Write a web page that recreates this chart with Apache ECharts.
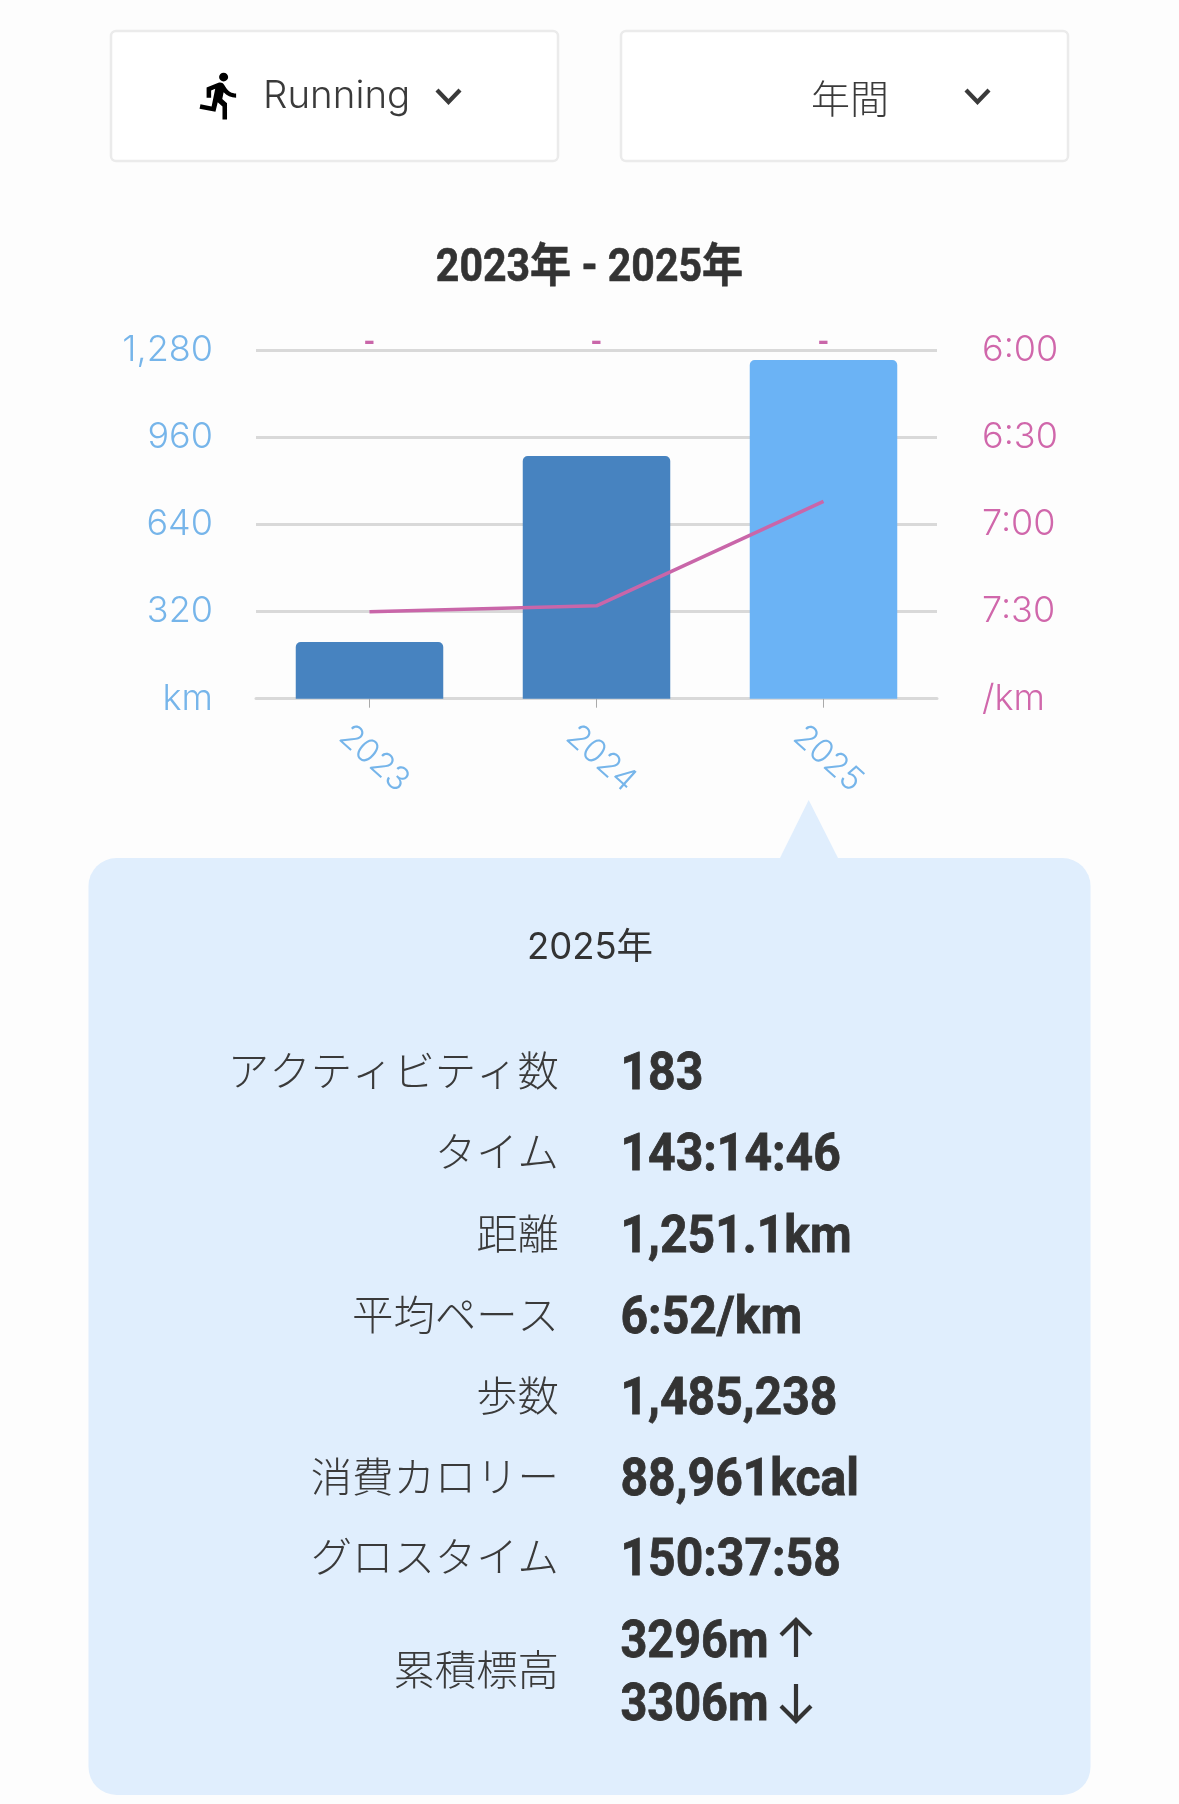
<!DOCTYPE html>
<html><head><meta charset="utf-8">
<style>html,body{margin:0;padding:0;background:#fdfdfd}#c{width:1179px;height:1804px}</style>
<script src="https://cdn.jsdelivr.net/npm/echarts@6/dist/echarts.min.js"></script>
</head><body><div id="c"></div>
<script>
const categories = ['2023','2024','2025'];
const distanceKm = [208, 892, 1245];
const paceSeconds = [450, 448, 412];
const paceMarks = ['-','-','-'];
const barColors = ['#4783c0','#4783c0','#6bb3f5'];
const distanceTicks = {0:'km',320:'320',640:'640',960:'960',1280:'1,280'};
const paceTicks = {360:'6:00',390:'6:30',420:'7:00',450:'7:30',480:'/km'};
const panelTitle = '2025年';
const rowLabels = ['アクティビティ数','タイム','距離','平均ペース','歩数','消費カロリー','グロスタイム','累積標高'];
const rowValues = ['183','143:14:46','1,251.1km','6:52/km','1,485,238','88,961kcal','150:37:58'];
const climb = '3296m', descent = '3306m';
const rowY = [1071,1152,1234,1315,1396,1477,1557,1670];
const latin = 'Roboto, "Noto Sans CJK JP", sans-serif';
const ui = 'Inter, "Noto Sans CJK JP", sans-serif';
const jp = '"Noto Sans CJK JP", sans-serif';
const runPath = 'M13.49 5.48c1.1 0 2-.9 2-2s-.9-2-2-2-2 .9-2 2 .9 2 2 2zm-3.6 13.9l1-4.4 2.1 2v6h2v-7.5l-2.1-2 .6-3c1.3 1.5 3.3 2.5 5.5 2.5v-2c-1.9 0-3.5-1-4.3-2.4l-1-1.6c-.4-.6-1-1-1.7-1-.3 0-.5.1-.8.1l-5.2 2.2v4.7h2v-3.4l1.8-.7-1.6 8.1-4.9-1-.4 2 7 1.4z';
echarts.graphic.registerShape('runner', echarts.graphic.extendPath(runPath, {}));

function box(x,y,w,h){return {type:'rect',shape:{x,y,width:w,height:h,r:5},style:{fill:'#fff',stroke:'#ebebeb',lineWidth:2.5}};}
function chev(x){return {type:'polyline',shape:{points:[[x,90],[x+11.5,102],[x+23,90]]},style:{fill:'none',stroke:'#3a3a3a',lineWidth:4.2}};}
function txt(t,x,y,size,opt){opt=opt||{};const s={text:t,x:0,y:0,font:(opt.w||300)+' '+size+'px '+(opt.f||jp),fill:opt.c||'#3a3a3a',align:opt.a||'left',verticalAlign:'middle'};
  if(opt.st){s.stroke=s.fill;s.lineWidth=opt.st;}
  return {type:'text',x,y,scaleX:opt.sx||1,style:s};}
const graphics = [
  box(111,31,447,130), box(621,31,447,130),
  {type:'runner',x:193,y:69.5,scaleX:2.27,scaleY:2.18,style:{fill:'#000'}},
  txt('Running',263,96,38.5,{f:ui}),
  chev(437), chev(966),
  txt('年間',850,98,39,{a:'center'}),
  txt('2023年 - 2025年',589.5,269,46,{f:latin,w:700,a:'center',sx:.893,c:'#333',st:.6}),
  {type:'polygon',shape:{points:[[779,860],[808.7,800],[839,860]]},style:{fill:'#e0eefd'}},
  {type:'rect',shape:{x:88.5,y:858,width:1002,height:937,r:28},style:{fill:'#e0eefd'}},
  txt(panelTitle,590,948,36.5,{f:ui,w:400,a:'center',c:'#333'})
];
rowLabels.forEach((l,i)=>graphics.push(txt(l,559,rowY[i]-0.5,41.4,{a:'right',c:'#3a3a3a'})));
const vs={f:latin,w:700,sx:.925,c:'#333',st:.8};
rowValues.forEach((v,i)=>graphics.push(txt(v,620.5,rowY[i]+4.5,52,vs)));
graphics.push(txt(climb,620.5,1643.5,52,{...vs,sx:.9}));
graphics.push(txt(descent,620.5,1706.5,52,{...vs,sx:.9}));
function arrow(x,y,dir){const tip=y-dir*19;return {type:'polyline',shape:{points:[[x-15,tip+dir*15],[x,tip],[x+15,tip+dir*15]]},style:{fill:'none',stroke:'#333',lineWidth:4.2}};}
function shaft(x,y){return {type:'line',shape:{x1:x,y1:y-18,x2:x,y2:y+18},style:{stroke:'#333',lineWidth:4.2}};}
graphics.push(arrow(796,1639,1),shaft(796,1639),arrow(796,1702,-1),shaft(796,1702));

const chart = echarts.init(document.getElementById('c'));
const gridLine = {color:'#d9d9d9',width:3};
chart.setOption({
  animation:false,
  backgroundColor:'#fdfdfd',
  graphic:graphics,
  grid:{left:256,right:242,top:350.5,height:348.2,containLabel:false},
  xAxis:{type:'category',data:categories,
    axisLine:{lineStyle:gridLine},
    axisTick:{show:true,alignWithLabel:true,length:9,lineStyle:{color:'#aaa',width:1}},
    axisLabel:{rotate:-42,align:'center',verticalAlign:'middle',margin:56,padding:[0,0,0,12],fontSize:33,fontWeight:300,fontFamily:ui,color:'#76b5ea'}},
  yAxis:[
    {type:'value',min:0,max:1280,interval:320,
      axisLine:{show:false},axisTick:{show:false},splitLine:{lineStyle:gridLine},
      axisLabel:{margin:43,padding:[6,0,0,0],fontSize:36,fontWeight:300,fontFamily:ui,color:'#76b5ea',formatter:v=>distanceTicks[v]}},
    {type:'value',min:360,max:480,interval:30,inverse:true,position:'right',
      axisLine:{show:false},axisTick:{show:false},splitLine:{show:false},
      axisLabel:{margin:45,padding:[6,0,0,0],fontSize:36,fontWeight:300,fontFamily:ui,color:'#d067ab',formatter:v=>paceTicks[v]}}
  ],
  series:[
    {type:'bar',data:distanceKm.map((v,i)=>({value:v,itemStyle:{color:barColors[i]}})),barWidth:147.5,itemStyle:{borderRadius:[5,5,0,0]},z:2},
    {type:'line',yAxisIndex:1,data:paceSeconds,symbol:'none',lineStyle:{color:'#c966a9',width:3.5},z:3},
    {type:'line',yAxisIndex:1,data:paceSeconds.map(()=>360),symbol:'circle',symbolSize:0,lineStyle:{width:0},z:4,
      label:{show:true,position:'top',distance:-8,fontSize:30,fontWeight:700,fontFamily:latin,color:'#c966a9',formatter:p=>paceMarks[p.dataIndex]}}
  ]
});
</script></body></html>
